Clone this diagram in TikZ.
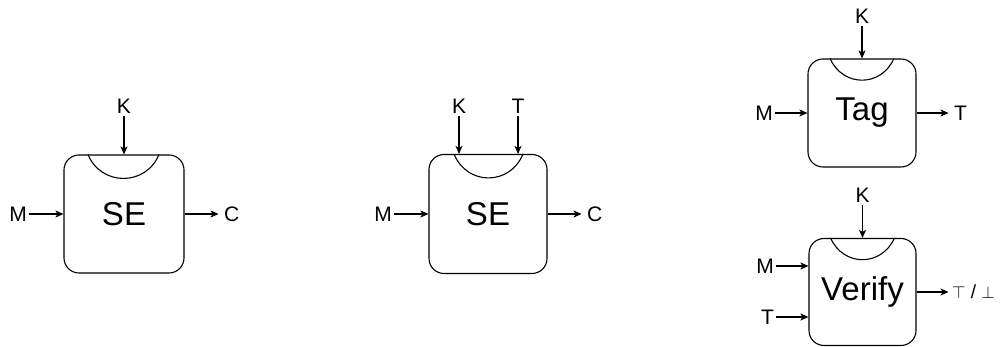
\documentclass[tikz,border=0pt]{standalone}
\usepackage{fontspec}
\setmainfont{Liberation Sans}
\usetikzlibrary{positioning,arrows.meta}

% key "bowl" hanging from the top edge of a box
\newcommand{\keybowl}[4]{%
  \draw ([xshift=#2]#1.north) .. controls +(13pt,-#4) and +(-13pt,-#4) .. ([xshift=#3]#1.north);}

\begin{document}
\begin{tikzpicture}[
        x=1pt, y=1pt,
        line width=1.1pt,
        every node/.style={font=\fontsize{21}{25}\selectfont, inner sep=2pt},
        box/.style={draw, rounded corners=15pt,
        font=\fontsize{33}{39}\selectfont},
        outlbl/.style={inner xsep=5pt},
        arr/.style={-{Stealth[length=8pt,width=7pt,inset=2pt]}}
      ]
    \useasboundingbox (0,0) rectangle (1000,347);
    % SE with key only
    \node[box, minimum width=120pt, minimum height=118pt] (se1) at (124,133) {SE};
    \node[above=38pt of se1] (k1) {K};
    \node[left=34pt of se1] (m1) {M};
    \node[outlbl, right=34pt of se1] (c1) {C};
    \draw[arr] (k1) -- (se1);
    \draw[arr] (m1) -- (se1);
    \draw[arr] (se1) -- (c1);
    \keybowl{se1}{-36pt}{35pt}{32pt}
    % SE with key and tag
    \node[box, minimum width=118pt, minimum height=119pt] (se2) at (488,133) {SE};
    \node[above=38pt of se2, xshift=-29pt] (k2) {K};
    \node[above=38pt of se2, xshift=30pt] (t2) {T};
    \node[left=34pt of se2] (m2) {M};
    \node[outlbl, right=34pt of se2] (c2) {C};
    \draw[arr] (k2) -- (k2 |- se2.north);
    \draw[arr] (t2) -- (t2 |- se2.north);
    \draw[arr] (m2) -- (se2);
    \draw[arr] (se2) -- (c2);
    \keybowl{se2}{-34pt}{35pt}{32pt}
    % MAC: tag
    \node[box, minimum width=108pt, minimum height=108pt] (tag) at (862,234) {Tag};
    \node[above=32pt of tag] (k3) {K};
    \node[left=32pt of tag] (m3) {M};
    \node[outlbl, right=32pt of tag] (t3) {T};
    \draw[arr] (k3) -- (tag);
    \draw[arr] (m3) -- (tag);
    \draw[arr] (tag) -- (t3);
    \keybowl{tag}{-32pt}{32pt}{29pt}
    % MAC: verify
    \node[box, minimum width=107pt, minimum height=107pt] (vf) at (862.5,55) {Verify};
    \node[above=33pt of vf] (k4) {K};
    \node[left=32pt of vf, yshift=26pt] (m4) {M};
    \node[left=32pt of vf, yshift=-25pt] (t4) {T};
    \node[outlbl, inner xsep=3pt, right=32pt of vf,
    font=\fontsize{19}{22}\selectfont] (res) {$\top$ / $\bot$};
    \draw[arr] (k4) -- (vf);
    \draw[arr] (m4) -- (m4 -| vf.west);
    \draw[arr] (t4) -- (t4 -| vf.west);
    \draw[arr] (vf) -- (res);
    \keybowl{vf}{-32pt}{32pt}{29pt}
\end{tikzpicture}
\end{document}
